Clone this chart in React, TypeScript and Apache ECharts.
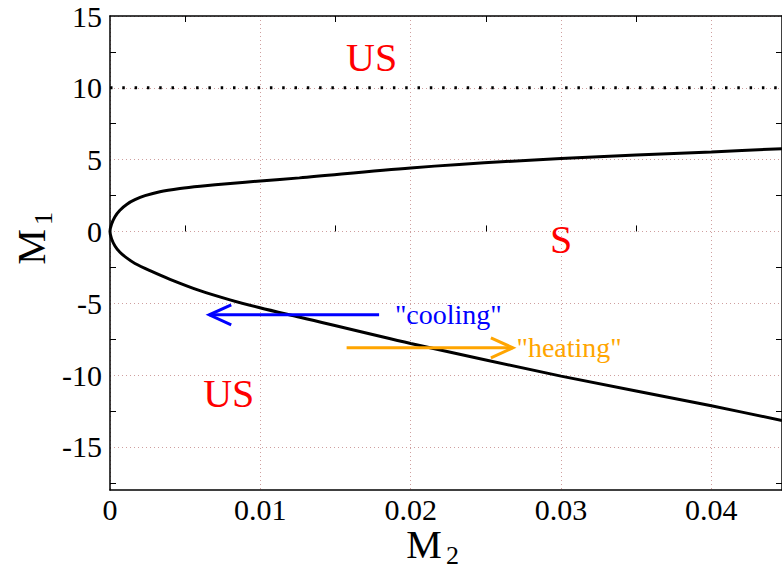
import React, { useEffect, useRef } from 'react';
import * as echarts from 'echarts';

// Stability boundary, read as (M2, M1) pairs from the lower branch up through the vertex to the upper branch
const boundaryM2 = [
  0.0447, 0.04, 0.03, 0.02, 0.01263, 0.00997, 0.00798, 0.00598, 0.00399, 0.00266, 0.00166, 0.00113, 0.00066, 0.00033, 0.0001,
  0,
  0.0001, 0.00033, 0.00066, 0.00113, 0.00166, 0.00233, 0.00332, 0.00465, 0.006, 0.008, 0.01, 0.0126, 0.02, 0.03, 0.04, 0.0447,
];
const boundaryM1 = [
  -13.16, -12.14, -10.07, -7.8, -5.97, -5.31, -4.76, -4.12, -3.33, -2.73, -2.23, -1.86, -1.45, -1.01, -0.5,
  0,
  0.5, 1.03, 1.48, 1.9, 2.21, 2.49, 2.77, 2.99, 3.15, 3.34, 3.52, 3.73, 4.42, 5.08, 5.54, 5.76,
];

// Horizontal limit drawn as a dotted line
const limitM1 = 10;

const X_MIN = 0;
const X_MAX = 0.0447;
const Y_MIN = -18;
const Y_MAX = 15;

const xMajorValues = [0, 0.01, 0.02, 0.03, 0.04];
const xMajorLabels = ['0', '0.01', '0.02', '0.03', '0.04'];
const xMinorValues = [0.005, 0.015, 0.025, 0.035];
const yMajorValues = [-15, -10, -5, 0, 5, 10, 15];
const yMajorLabels = ['-15', '-10', '-5', '0', '5', '10', '15'];
const yMinorValues = [-17.5, -12.5, -7.5, -2.5, 2.5, 7.5, 12.5];

// Region annotations (centre position in data units)
const regionText = ['US', 'S', 'US'];
const regionM2 = [0.0174, 0.03, 0.0079];
const regionM1 = [12.1, -0.55, -11.3];

// Direction arrows: start / end in M2, at a fixed M1
const arrowText = ['"cooling"', '"heating"'];
const arrowColor = ['#0000ff', '#ffa500'];
const arrowFromM2 = [0.0179, 0.01574];
const arrowToM2 = [0.0066, 0.0268];
const arrowM1 = [-5.8, -8.1];
const arrowLabelM2 = [0.01895, 0.02704];

const SERIF = '"Liberation Serif", "Times New Roman", Times, serif';

export default function App() {
  const ref = useRef<HTMLDivElement>(null);

  useEffect(() => {
    const chart = echarts.init(ref.current!, null, { renderer: 'svg' });

    const gridLine = { show: true, lineStyle: { color: '#cf9f9f', width: 1, type: [1, 3] } };
    const frameLine = { show: true, onZero: false, lineStyle: { color: '#000', width: 1.5 } };
    const minorTicks = (values: number[]) => ({
      show: true,
      inside: true,
      length: 6,
      customValues: values,
      lineStyle: { color: '#000', width: 1 },
    });
    const hidden = { show: false };

    const curve = boundaryM2.map((m2, i) => [m2, boundaryM1[i]]);

    chart.setOption({
      animation: false,
      textStyle: { fontFamily: SERIF },
      grid: { left: 110, top: 16, right: 0, bottom: 78, containLabel: false },
      xAxis: [
        {
          type: 'value', position: 'bottom', min: X_MIN, max: X_MAX,
          axisLine: frameLine,
          axisTick: { show: false, customValues: xMajorValues },
          axisLabel: {
            customValues: xMajorValues,
            formatter: (v: number) => xMajorLabels[xMajorValues.findIndex((t) => Math.abs(t - v) < 1e-9)] ?? '',
            color: '#000', fontSize: 30, fontFamily: SERIF, margin: 4,
          },
          splitLine: gridLine,
        },
        {
          type: 'value', position: 'bottom', min: X_MIN, max: X_MAX,
          axisLine: hidden, axisLabel: hidden, splitLine: hidden,
          axisTick: minorTicks(xMinorValues),
        },
        {
          type: 'value', position: 'top', min: X_MIN, max: X_MAX,
          axisLine: frameLine, axisLabel: hidden, splitLine: hidden,
          axisTick: minorTicks(xMinorValues),
        },
      ],
      yAxis: [
        {
          type: 'value', position: 'left', min: Y_MIN, max: Y_MAX,
          axisLine: frameLine,
          axisTick: { show: false, customValues: yMajorValues },
          axisLabel: {
            customValues: yMajorValues,
            formatter: (v: number) => yMajorLabels[yMajorValues.indexOf(v)] ?? '',
            color: '#000', fontSize: 30, fontFamily: SERIF, margin: 8,
          },
          splitLine: gridLine,
        },
        {
          type: 'value', position: 'left', min: Y_MIN, max: Y_MAX,
          axisLine: hidden, axisLabel: hidden, splitLine: hidden,
          axisTick: minorTicks(yMinorValues),
        },
        {
          type: 'value', position: 'right', min: Y_MIN, max: Y_MAX,
          axisLine: frameLine, axisLabel: hidden, splitLine: hidden,
          axisTick: minorTicks(yMinorValues),
        },
      ],
      series: [
        {
          type: 'line',
          xAxisIndex: 0, yAxisIndex: 0,
          data: [[X_MIN, limitM1], [X_MAX, limitM1]],
          showSymbol: false,
          lineStyle: { color: '#000', width: 3, type: [2.5, 9.8], cap: 'butt' },
          z: 3,
        },
        {
          type: 'line',
          xAxisIndex: 0, yAxisIndex: 0,
          data: curve,
          smooth: 0.3,
          showSymbol: false,
          lineStyle: { color: '#000', width: 3 },
          z: 4,
        },
      ],
    });

    const px = (m2: number, m1: number) =>
      chart.convertToPixel({ xAxisIndex: 0, yAxisIndex: 0 }, [m2, m1]) as number[];

    const elements: any[] = [];

    regionText.forEach((t, i) => {
      const [x, y] = px(regionM2[i], regionM1[i]);
      elements.push({
        type: 'text', x, y, z: 10,
        style: { text: t, fill: '#ff0000', font: `40px ${SERIF}`, align: 'center', verticalAlign: 'middle' },
      });
    });

    arrowText.forEach((t, i) => {
      const [x0, y] = px(arrowFromM2[i], arrowM1[i]);
      const [x1] = px(arrowToM2[i], arrowM1[i]);
      const [lx] = px(arrowLabelM2[i], arrowM1[i]);
      const dir = x1 > x0 ? 1 : -1;
      const stroke = { stroke: arrowColor[i], lineWidth: 3, fill: null };
      elements.push({ type: 'polyline', z: 10, shape: { points: [[x0, y], [x1, y]] }, style: stroke });
      elements.push({
        type: 'polyline', z: 10,
        shape: { points: [[x1 - dir * 22, y - 10], [x1, y], [x1 - dir * 22, y + 10]] },
        style: stroke,
      });
      elements.push({
        type: 'text', x: lx, y, z: 10,
        style: { text: t, fill: arrowColor[i], font: `28px ${SERIF}`, align: 'left', verticalAlign: 'middle' },
      });
    });

    // Axis titles with subscripts
    elements.push({
      type: 'group', x: 424, y: 544, z: 10,
      children: [
        { type: 'text', x: 0, y: 0, style: { text: 'M', fill: '#000', font: `40px ${SERIF}`, align: 'center', verticalAlign: 'middle' } },
        { type: 'text', x: 22, y: 11, style: { text: '2', fill: '#000', font: `26px ${SERIF}`, align: 'left', verticalAlign: 'middle' } },
      ],
    });
    elements.push({
      type: 'group', x: 31, y: 247, rotation: Math.PI / 2, z: 10,
      children: [
        { type: 'text', x: 0, y: 0, style: { text: 'M', fill: '#000', font: `40px ${SERIF}`, align: 'center', verticalAlign: 'middle' } },
        { type: 'text', x: 22, y: 12, style: { text: '1', fill: '#000', font: `26px ${SERIF}`, align: 'left', verticalAlign: 'middle' } },
      ],
    });

    chart.setOption({ graphic: { elements } });

    return () => chart.dispose();
  }, []);

  return (
    <div
      ref={ref}
      style={{ position: 'fixed', left: 0, top: 0, width: 782, height: 568, background: '#fff' }}
    />
  );
}
